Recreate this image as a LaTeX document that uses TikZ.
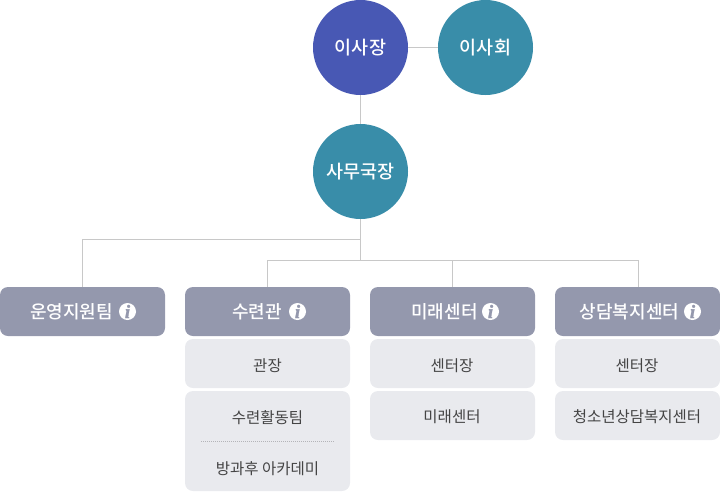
\documentclass[tikz,border=0pt]{standalone}
\usepackage{fontspec}
\setmainfont{Noto Sans CJK KR}
\newfontfamily\medfont{Noto Sans CJK KR Medium}
\newfontfamily\infofont{Liberation Serif}[BoldItalicFeatures={FakeBold=1.5}]
\definecolor{chairc}{HTML}{4858B4}
\definecolor{tealc}{HTML}{398DA9}
\definecolor{headc}{HTML}{9498AD}
\definecolor{subc}{HTML}{E9EAEE}
\definecolor{linec}{HTML}{C8C8C8}
\definecolor{dotc}{HTML}{B4B4B8}
\definecolor{subtext}{HTML}{444444}
\tikzset{
  x=1pt,y=-1pt,
  circ/.style={circle,minimum size=95pt,inner sep=0pt,text=white,font=\medfont\fontsize{18.5}{20}\selectfont},
  headbox/.style={rounded corners=8pt,fill=headc,minimum width=165pt,minimum height=49pt,inner sep=0pt},
  headtxt/.style={inner sep=0pt,text=white,font=\medfont\fontsize{18}{20}\selectfont,anchor=center},
  subbox/.style={rounded corners=8pt,fill=subc,minimum width=165pt,inner sep=0pt},
  subtxt/.style={inner sep=0pt,text=subtext,font=\fontsize{15.5}{18}\selectfont},
  infoicon/.style={circle,fill=white,minimum size=17pt,inner sep=0pt,text=headc,font=\infofont\fontsize{19}{19}\selectfont\bfseries\itshape},
  conn/.style={draw=linec,line width=1pt}
}
\begin{document}
\begin{tikzpicture}
\useasboundingbox (0,0) rectangle (720,491);
\node[circ,fill=chairc] (chair) at (360.5,47.5) {이사장};
\node[circ,fill=tealc] (board) at (485.5,47.5) {이사회};
\node[circ,fill=tealc] (sec) at (360.5,171.5) {사무국장};
\node[headbox] (h1) at (82.5,311.5) {};
\node[headbox] (h2) at (267.5,311.5) {};
\node[headbox] (h3) at (452.5,311.5) {};
\node[headbox] (h4) at (637.5,311.5) {};
\node[headtxt] (t1) at (71.5,312) {운영지원팀};
\node[headtxt] (t2) at (257,312) {수련관};
\node[headtxt] (t3) at (444.5,312) {미래센터};
\node[headtxt] (t4) at (629.5,312) {상담복지센터};
\node[infoicon] (i1) at (127.5,311.5) {i};
\node[infoicon] (i2) at (297.5,311.5) {i};
\node[infoicon] (i3) at (490.5,311.5) {i};
\node[infoicon] (i4) at (692.5,311.5) {i};
\node[subbox,minimum height=49pt] (s21) at (267.5,363.5) {};
\node[subtxt] (s21t) at (267.5,365.5) {관장};
\node[subbox,minimum height=100pt] (s22) at (267.5,441) {};
\node[subtxt] (s22a) at (267.5,417.5) {수련활동팀};
\node[subtxt] (s22b) at (267.5,468.5) {방과후 아카데미};
\coordinate (dl) at (201,441.5);
\coordinate (dr) at (334,441.5);
\draw[dotc,line width=0.8pt,dash pattern=on 1pt off 1pt] (dl) -- (dr);
\node[subbox,minimum height=49pt] (s31) at (452.5,363.5) {};
\node[subtxt] (s31t) at (452,365.5) {센터장};
\node[subbox,minimum height=49pt] (s32) at (452.5,415.5) {};
\node[subtxt] (s32t) at (452,417) {미래센터};
\node[subbox,minimum height=49pt] (s41) at (637.5,363.5) {};
\node[subtxt] (s41t) at (637,365.5) {센터장};
\node[subbox,minimum height=49pt] (s42) at (637.5,415.5) {};
\node[subtxt] (s42t) at (637,417) {청소년상담복지센터};
\coordinate (bus1) at (360.5,239.5);
\coordinate (bus2) at (360.5,260.5);
\path[conn] (chair) -- (board);
\path[conn] (chair) -- (sec);
\path[conn] (sec) -- (bus2);
\path[conn] (bus1) -| (h1.north);
\path[conn] (bus2) -| (h2.north);
\path[conn] (bus2) -| (h3.north);
\path[conn] (bus2) -| ([xshift=.5pt]h4.north);
\end{tikzpicture}
\end{document}
